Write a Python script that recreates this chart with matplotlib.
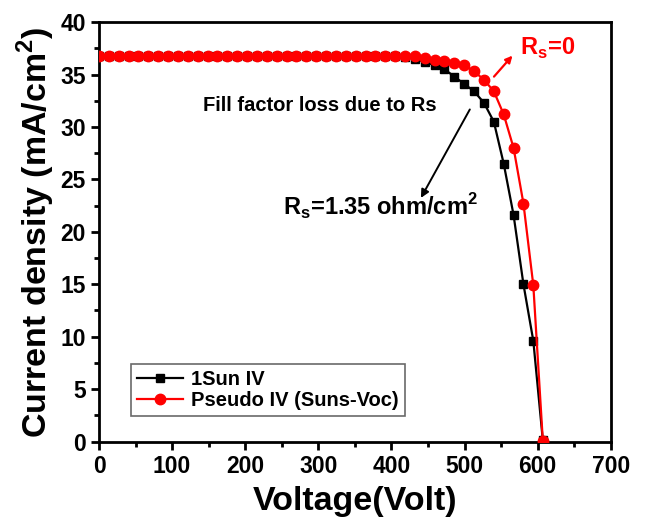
import matplotlib
matplotlib.use("Agg")
import matplotlib.pyplot as plt
from matplotlib.ticker import MultipleLocator

plt.rcParams['font.family'] = ['Liberation Sans', 'DejaVu Sans']
plt.rcParams['font.weight'] = 'bold'
plt.rcParams['mathtext.fontset'] = 'custom'
plt.rcParams['mathtext.rm'] = 'Liberation Sans:bold'
plt.rcParams['mathtext.bf'] = 'Liberation Sans:bold'

# voltage grid (V) shared by both curves
voltage = [0, 13.5, 27, 40.5, 54, 67.5, 81, 94.5, 108, 121.5, 135, 148.5,
           162, 175.5, 189, 202.5, 216, 229.5, 243, 256.5, 270, 283.5, 297,
           310.5, 324, 337.5, 351, 364.5, 378, 391.5, 405, 418.5, 432, 445.5,
           459, 472.5, 486, 499.5, 513, 526.5, 540, 553.5, 567, 580.5, 594, 607]

# 1 Sun IV (mA/cm2)
j_1sun = [36.8] * 30 + [36.75, 36.65, 36.5, 36.2, 35.9, 35.5, 34.8, 34.1,
                        33.4, 32.3, 30.5, 26.5, 21.6, 15.0, 9.6, 0.14]

# Pseudo IV, Suns-Voc (mA/cm2)
j_pseudo = [36.8] * 29 + [36.78, 36.8, 36.8, 36.75, 36.6, 36.4, 36.3, 36.1,
                          35.9, 35.3, 34.5, 33.4, 31.2, 28.0, 22.7, 14.9, 0.1]

fig = plt.figure(figsize=(6.45, 5.32), dpi=100)
ax = fig.add_axes([0.1535, 0.170, 0.7935, 0.7885])

ax.plot(voltage, j_1sun, color='black', marker='s', markersize=6, lw=1.6,
        label='1Sun IV', zorder=2)
ax.plot(voltage, j_pseudo, color='red', marker='o', markersize=7.5, lw=1.6,
        label='Pseudo IV (Suns-Voc)', zorder=3)

ax.set_xlim(0, 700)
ax.set_ylim(0, 40)
ax.xaxis.set_major_locator(MultipleLocator(100))
ax.xaxis.set_minor_locator(MultipleLocator(50))
ax.yaxis.set_major_locator(MultipleLocator(5))
ax.yaxis.set_minor_locator(MultipleLocator(2.5))
ax.tick_params(which='major', direction='out', length=6, width=2, labelsize=16.5)
ax.tick_params(which='minor', direction='out', length=3.5, width=2)
for s in ax.spines.values():
    s.set_linewidth(2)
for lab in ax.get_xticklabels() + ax.get_yticklabels():
    lab.set_fontweight('bold')

ax.set_xlabel('Voltage(Volt)', fontsize=24.5, fontweight='bold', labelpad=6)
ax.set_ylabel('Current density (mA/cm$^2$)', fontsize=24.5, fontweight='bold', labelpad=2)

# annotations
ax.annotate('', xy=(568, 37.0), xytext=(537.7, 34.6),
            arrowprops=dict(arrowstyle='-|>', color='red', lw=1.6, mutation_scale=10))
ax.text(576, 37.5, r'R$_\mathregular{s}$=0', color='red', fontsize=17,
        fontweight='bold', va='center', ha='left')
ax.text(141.6, 31.5, 'Fill factor loss due to Rs', fontsize=14.5,
        fontweight='bold', va='baseline', ha='left')
ax.annotate('', xy=(438.4, 23.0), xytext=(509, 31.9),
            arrowprops=dict(arrowstyle='-|>', color='black', lw=1.4, mutation_scale=12))
ax.text(251, 21.5, r'R$_\mathregular{s}$=1.35 ohm/cm$^\mathregular{2}$', fontsize=17,
        fontweight='bold', va='baseline', ha='left')

leg = ax.legend(loc='lower left', bbox_to_anchor=(0.062, 0.061),
                frameon=True, fancybox=False, edgecolor='#444444',
                handlelength=2.3, handletextpad=0.4, borderpad=0.3,
                labelspacing=0.1, borderaxespad=0,
                prop={'weight': 'bold', 'size': 14.5})
leg.get_frame().set_linewidth(1.2)

fig.savefig('out.png', dpi=100)
